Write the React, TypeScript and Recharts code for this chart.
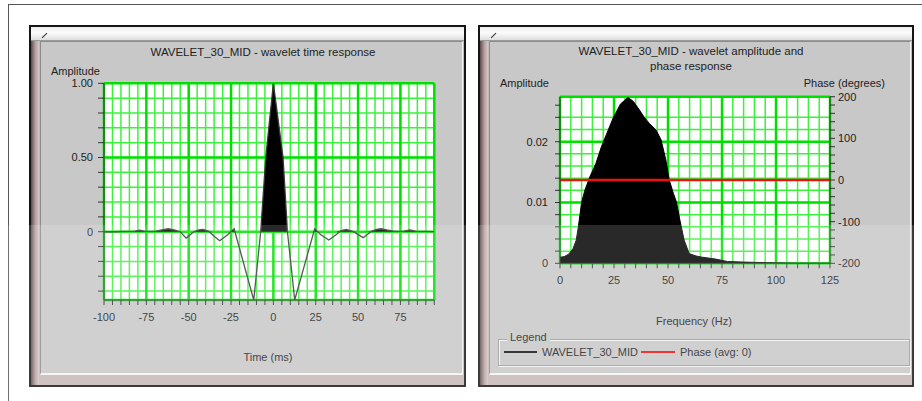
import React from 'react';
import {
  ComposedChart,
  Area,
  Line,
  XAxis,
  YAxis,
  CartesianGrid,
} from 'recharts';

// wavelet time response (ms, amplitude)
const timeMs = [
  -100, -95, -88, -82, -79, -76, -70, -66, -62, -58, -55, -51.5, -47, -44, -41.5, -38, -35,
  -31.7, -27, -25.1, -23.2, -22.7, -11.6, -7.5, -4.5, 0, 5.7, 8.3, 12.6, 23.9, 24.4, 26.2,
  28, 32.7, 37, 40, 43, 47, 53, 58, 61, 63.5, 67, 72, 77, 80.6, 84, 90, 95,
];
const timeAmp = [
  0, 0, 0.003, 0.004, 0.011, 0.004, 0.002, 0.012, 0.02, 0.01, 0, -0.043, 0, 0.012, 0.015, 0.002,
  -0.03, -0.061, -0.02, 0, 0.02, 0, -0.46, 0, 0.5, 1, 0.5, 0, -0.46, 0, 0.02, 0,
  -0.02, -0.056, -0.02, 0.008, 0.015, 0.002, -0.04, 0.004, 0.016, 0.02, 0.012, 0.002, 0.004,
  0.012, 0.004, 0.002, 0,
];

const timeTicks = [
  -100, -95, -90, -85, -80, -75, -70, -65, -60, -55, -50, -45, -40, -35, -30, -25, -20, -15,
  -10, -5, 0, 5, 10, 15, 20, 25, 30, 35, 40, 45, 50, 55, 60, 65, 70, 75, 80, 85, 90, 95,
];
const timeMajor = [-100, -75, -50, -25, 0, 25, 50, 75, 95];
const timeAmpTicks = [-0.4, -0.3, -0.2, -0.1, 0, 0.1, 0.2, 0.3, 0.4, 0.5, 0.6, 0.7, 0.8, 0.9, 1];
const timeAmpMajor = [-0.46, 0, 0.5, 1];

// amplitude spectrum (Hz, amplitude) and phase
const freqHz = [
  0, 2, 4, 6, 7.5, 8.5, 10, 11.5, 13.8, 16.6, 19.2, 21.5, 24.5, 28, 31.5, 34, 36.8, 39, 41.4,
  44.5, 46.8, 49, 50.6, 52.5, 54, 55.5, 57.5, 59.8, 63, 66, 72, 77.5, 85, 96, 110, 125,
];
const specAmp = [
  0.001, 0.0011, 0.0015, 0.0024, 0.0038, 0.006, 0.01, 0.012, 0.0142, 0.0164, 0.0192, 0.0212,
  0.0238, 0.0262, 0.0273, 0.0266, 0.0252, 0.024, 0.023, 0.0219, 0.0203, 0.017, 0.0137, 0.0115,
  0.01, 0.0071, 0.0038, 0.0016, 0.0012, 0.001, 0.0007, 0.0003, 0.0002, 0.0001, 0, 0,
];
const phaseHz = [0, 125];
const phaseDeg = [0, 0];

const freqTicks = [
  0, 5, 10, 15, 20, 25, 30, 35, 40, 45, 50, 55, 60, 65, 70, 75, 80, 85, 90, 95, 100, 105, 110,
  115, 120, 125,
];
const freqMajor = [0, 25, 50, 75, 100, 125];
const specTicks = [
  0, 0.002, 0.004, 0.006, 0.008, 0.01, 0.012, 0.014, 0.016, 0.018, 0.02, 0.022, 0.024, 0.026,
];
const specGrid = [0, 0.002, 0.004, 0.006, 0.008, 0.01, 0.012, 0.014, 0.016, 0.018, 0.02, 0.022, 0.024];
const specMajor = [0, 0.01, 0.02, 0.0274];
const phaseTicks = [
  -200, -180, -160, -140, -120, -100, -80, -60, -40, -20, 0, 20, 40, 60, 80, 100, 120, 140, 160,
  180, 200,
];

const timeRows = timeMs.map((t, i) => ({ t, amp: timeAmp[i], pos: Math.max(timeAmp[i], 0) }));
const specRows = freqHz.map((f, i) => ({ f, amp: specAmp[i] }));
const phaseRows = phaseHz.map((f, i) => ({ f, phase: phaseDeg[i] }));

const FONT = '"Liberation Sans", Arial, sans-serif';
const tickStyle = { fontSize: 11, fill: '#222', fontFamily: FONT };
const minorGreen = '#3df03d';
const majorGreen = '#00e000';

const near = (a: number, b: number) => Math.abs(a - b) < 1e-9;

const Label = ({ x, y, children, align = 'center', size = 11 }: any) => (
  <div
    style={{
      position: 'absolute',
      left: x,
      top: y,
      transform: `translate(${align === 'center' ? '-50%' : align === 'right' ? '-100%' : '0'}, -50%)`,
      fontFamily: FONT,
      fontSize: size,
      color: '#222',
      whiteSpace: 'nowrap',
      lineHeight: 1,
    }}
  >
    {children}
  </div>
);

const Frame = ({ left, width }: { left: number; width: number }) => (
  <>
    <div
      style={{
        position: 'absolute',
        left,
        top: 25,
        width,
        height: 362,
        border: '2px solid #151515',
        boxSizing: 'border-box',
        background: '#c6b8b6',
      }}
    />
    <div
      style={{
        position: 'absolute',
        left: left + 2,
        top: 27,
        width: width - 4,
        height: 14,
        background: 'linear-gradient(#eeeeee, #fbfbfb 45%, #dedede)',
        borderBottom: '1px solid #9a9a9a',
        boxSizing: 'border-box',
      }}
    />
    <div
      style={{
        position: 'absolute',
        left: left + 2,
        top: 41,
        width: 8,
        height: 344,
        background: 'linear-gradient(to right, #5c4a4a, #b09a9a, #d6c8c8)',
      }}
    />
    <div
      style={{
        position: 'absolute',
        left: left + 12,
        top: 35,
        width: 7,
        height: 1,
        background: '#333',
        transform: 'rotate(-45deg)',
      }}
    />
    <div
      style={{
        position: 'absolute',
        left: left + 11,
        top: 41,
        width: width - 14,
        height: 334,
        background: '#c8c8c8',
        borderTop: '1px solid #8c8c8c',
        borderLeft: '1px solid #8c8c8c',
        borderRight: '1px solid #f4f4f4',
        borderBottom: '2px solid #f4f4f4',
        boxSizing: 'border-box',
      }}
    />
  </>
);

const TimeChart = () => (
  <ComposedChart
    width={420}
    height={300}
    data={timeRows}
    margin={{ top: 23.3, right: 25.7, left: 24, bottom: 30 }}
  >
    <CartesianGrid
      stroke={minorGreen}
      strokeWidth={1.5}
      fill="#ffffff"
      fillOpacity={1}
      verticalValues={timeTicks}
      horizontalValues={timeAmpTicks}
    />
    <CartesianGrid
      stroke={majorGreen}
      strokeWidth={2.5}
      verticalValues={timeMajor}
      horizontalValues={timeAmpMajor}
    />
    <XAxis
      dataKey="t"
      type="number"
      domain={[-100, 95]}
      ticks={timeTicks}
      interval={0}
      height={30}
      tickSize={5}
      tickMargin={8}
      stroke="#333"
      tick={tickStyle}
      tickFormatter={(v: number) => (v % 25 === 0 ? String(v) : '')}
      allowDataOverflow
    />
    <YAxis
      type="number"
      domain={[-0.46, 1]}
      ticks={timeAmpTicks}
      interval={0}
      width={40}
      tickSize={6}
      tickMargin={5}
      stroke="#333"
      tick={tickStyle}
      allowDataOverflow
      tickFormatter={(v: number) =>
        near(v, 1) ? '1.00' : near(v, 0.5) ? '0.50' : near(v, 0) ? '0' : ''
      }
    />
    <Area
      dataKey="pos"
      type="linear"
      baseValue={0}
      fill="#000"
      fillOpacity={1}
      stroke="none"
      isAnimationActive={false}
    />
    <Line
      dataKey="amp"
      type="linear"
      stroke="#383838"
      strokeWidth={1.3}
      dot={false}
      isAnimationActive={false}
    />
  </ComposedChart>
);

const SpectrumChart = () => (
  <ComposedChart
    width={420}
    height={240}
    data={specRows}
    margin={{ top: 21.7, right: 28, left: 22, bottom: 21.7 }}
  >
    <CartesianGrid
      yAxisId="amp"
      stroke={minorGreen}
      strokeWidth={1.5}
      fill="#ffffff"
      fillOpacity={1}
      verticalValues={freqTicks}
      horizontalValues={specGrid}
    />
    <CartesianGrid
      yAxisId="amp"
      stroke={majorGreen}
      strokeWidth={2.5}
      verticalValues={freqMajor}
      horizontalValues={specMajor}
    />
    <XAxis
      dataKey="f"
      type="number"
      domain={[0, 125]}
      ticks={freqTicks}
      interval={0}
      height={30}
      tickSize={5}
      tickMargin={8}
      stroke="#333"
      tick={tickStyle}
      tickFormatter={(v: number) => (v % 25 === 0 ? String(v) : '')}
      allowDataOverflow
    />
    <YAxis
      yAxisId="amp"
      type="number"
      domain={[0, 0.0274]}
      ticks={specTicks}
      interval={0}
      width={50}
      tickSize={5}
      tickMargin={7}
      stroke="#333"
      tick={tickStyle}
      allowDataOverflow
      tickFormatter={(v: number) =>
        near(v, 0.02) ? '0.02' : near(v, 0.01) ? '0.01' : near(v, 0) ? '0' : ''
      }
    />
    <YAxis
      yAxisId="phase"
      orientation="right"
      type="number"
      domain={[-200, 200]}
      ticks={phaseTicks}
      interval={0}
      width={50}
      tickSize={5}
      tickMargin={3}
      stroke="#333"
      tick={{ ...tickStyle, textAnchor: 'start' }}
      allowDataOverflow
      tickFormatter={(v: number) => (v % 100 === 0 ? String(v) : '')}
    />
    <Area
      yAxisId="amp"
      dataKey="amp"
      type="linear"
      baseValue={0}
      fill="#000"
      fillOpacity={1}
      stroke="#000"
      strokeWidth={1}
      isAnimationActive={false}
    />
    <Line
      yAxisId="phase"
      data={phaseRows}
      dataKey="phase"
      type="linear"
      stroke="#ee1111"
      strokeWidth={2.5}
      dot={false}
      isAnimationActive={false}
    />
  </ComposedChart>
);

export default function App() {
  return (
    <div
      style={{
        position: 'fixed',
        left: 0,
        top: 0,
        width: 922,
        height: 401,
        overflow: 'hidden',
        background: '#fff',
      }}
    >
      <div
        style={{
          position: 'absolute',
          left: 8,
          top: 4,
          width: 960,
          height: 440,
          border: '1px solid #555',
        }}
      />

      <Frame left={29} width={437} />
      <Frame left={478} width={436} />

      {/* left panel */}
      <Label x={263} y={53} size={11.5}>WAVELET_30_MID - wavelet time response</Label>
      <Label x={51} y={71} align="left">Amplitude</Label>
      <div style={{ position: 'absolute', left: 40, top: 60 }}>
        <TimeChart />
      </div>
      <Label x={268} y={357}>Time (ms)</Label>

      {/* right panel */}
      <Label x={691} y={52} size={11.5}>WAVELET_30_MID - wavelet amplitude and</Label>
      <Label x={691} y={67} size={11.5}>phase response</Label>
      <Label x={500} y={83} align="left">Amplitude</Label>
      <Label x={885} y={83} align="right">Phase (degrees)</Label>
      <div style={{ position: 'absolute', left: 488, top: 75 }}>
        <SpectrumChart />
      </div>
      <Label x={694} y={321}>Frequency (Hz)</Label>

      {/* legend group box */}
      <div
        style={{
          position: 'absolute',
          left: 498,
          top: 339,
          width: 412,
          height: 27,
          border: '1px solid #9c9c9c',
          boxShadow: 'inset 1px 1px 0 #f4f4f4, 1px 1px 0 #f4f4f4',
          boxSizing: 'border-box',
        }}
      />
      <div
        style={{
          position: 'absolute',
          left: 507,
          top: 331,
          padding: '0 3px',
          background: '#c8c8c8',
          fontFamily: FONT,
          fontSize: 11,
          color: '#222',
          lineHeight: '12px',
        }}
      >
        Legend
      </div>
      <div style={{ position: 'absolute', left: 504, top: 351, width: 33, height: 1.5, background: '#111' }} />
      <Label x={542} y={352} align="left">WAVELET_30_MID</Label>
      <div style={{ position: 'absolute', left: 641, top: 350.5, width: 34, height: 2.5, background: '#ee1111' }} />
      <Label x={680} y={352} align="left">Phase (avg: 0)</Label>

      {/* light watermark band over the lower part */}
      <div
        style={{
          position: 'absolute',
          left: 0,
          top: 225,
          width: 922,
          height: 176,
          background: 'rgba(255,255,255,0.16)',
          pointerEvents: 'none',
        }}
      />
    </div>
  );
}
